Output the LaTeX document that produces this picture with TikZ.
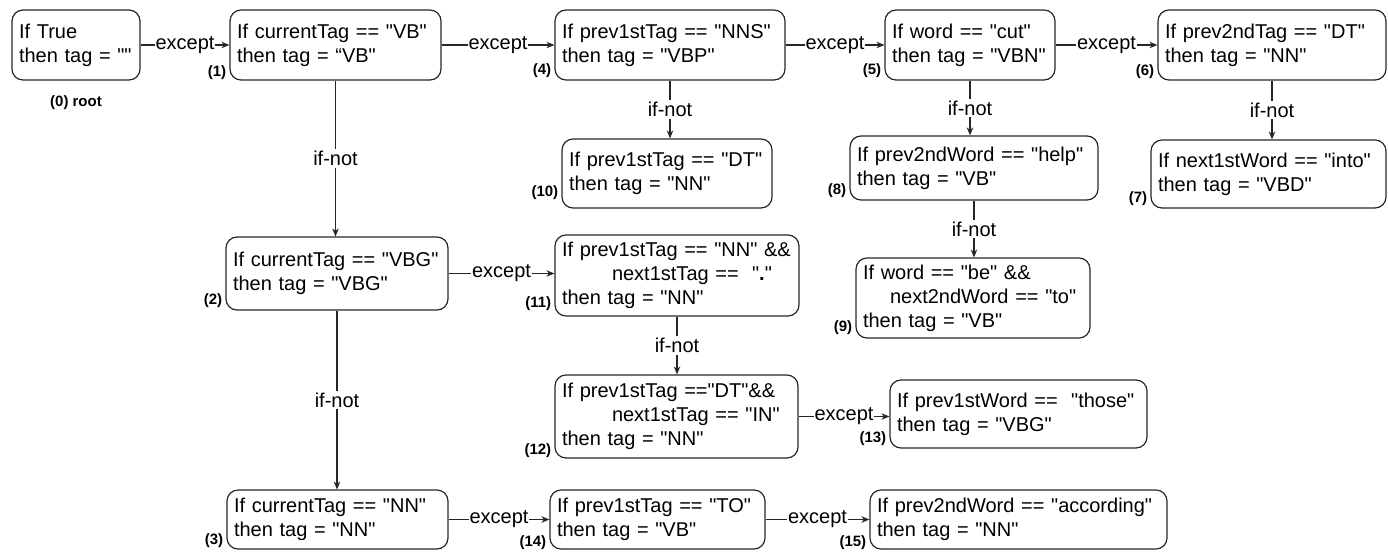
\documentclass[tikz,border=0pt]{standalone}
\usepackage{fontspec}
\setmainfont{Liberation Sans}
\newfontfamily\arialf{Liberation Sans}
\usetikzlibrary{arrows.meta}
\tikzset{
  rule/.style={draw=black!85, line width=1.2pt, rounded corners=11pt, inner xsep=7pt, inner ysep=0pt,
    align=left, font=\arialf\fontsize{20}{24}\selectfont, text=black},
  num/.style={font=\arialf\bfseries\fontsize{15}{18}\selectfont, anchor=east, inner sep=0pt, text=black},
  link/.style={draw=black!85, line width=1.2pt, -{Stealth[length=8pt,width=6.5pt]}},
  elab/.style={fill=white, inner xsep=1pt, inner ysep=2pt, font=\arialf\fontsize{20}{24}\selectfont, text=black},
}
\newcommand{\rbox}[6]{%
  \pgfmathsetmacro\bxw{#4-#2}\pgfmathsetmacro\bxh{#5-#3}\pgfmathsetmacro\bxtw{#4-#2-14}%
  \node[rule, minimum width=\bxw pt, minimum height=\bxh pt, text width=\bxtw pt] (#1) at ({(#2+#4)/2},{(#3+#5)/2}) {#6};}
\newcommand{\rnum}[3]{\node[num] (n#1) at ([xshift=-3pt,yshift=#3pt]#1.south west) {#2};}
\begin{document}
\begin{tikzpicture}[x=1pt,y=-1pt]
\useasboundingbox (0,0) rectangle (1388,552);
% boxes
\rbox{b0}{12}{10}{140}{80}{If True\\then tag = ""}
\rbox{b1}{230}{10}{441}{80}{If currentTag == "VB"\\then tag = “VB"}
\rbox{b4}{555}{10}{785}{80}{If prev1stTag == "NNS"\\then tag = "VBP"}
\rbox{b5}{885}{10}{1055}{80}{If word == "cut"\\then tag = "VBN"}
\rbox{b6}{1158}{10}{1386}{80}{If prev2ndTag == "DT"\\then tag = "NN"}
\rbox{b10}{562}{139}{772}{208}{If prev1stTag == "DT"\\then tag = "NN"}
\rbox{b8}{850}{136}{1098}{200}{If prev2ndWord == "help"\\then tag = "VB"}
\rbox{b7}{1151}{140}{1386}{208}{If next1stWord == "into"\\then tag = "VBD"}
\rbox{b2}{226}{237}{448}{310}{If currentTag == "VBG"\\then tag = "VBG"}
\rbox{b11}{555}{235}{799}{316}{If prev1stTag == "NN" \&\&\\\hspace*{50pt}next1stTag ==~~"\textbf{.}"\\then tag = "NN"}
\rbox{b9}{856}{258}{1090}{338}{If word == "be" \&\&\\\hspace*{27pt}next2ndWord == "to"\\then tag = "VB"}
\rbox{b12}{555}{375}{798}{458}{If prev1stTag =="DT"\&\&\\\hspace*{50pt}next1stTag == "IN"\\then tag = "NN"}
\rbox{b13}{890}{380}{1147}{448}{If prev1stWord ==~~"those"\\then tag = "VBG"}
\rbox{b3}{227}{490}{448}{549}{If currentTag == "NN"\\then tag = "NN"}
\rbox{b14}{550}{490}{765}{549}{If prev1stTag == "TO"\\then tag = "VB"}
\rbox{b15}{870}{490}{1167}{549}{If prev2ndWord == "according"\\then tag = "NN"}
% numbers
\node[num, anchor=center] (root) at (76,103) {(0) root};
\rnum{b1}{(1)}{8}
\rnum{b4}{(4)}{10}
\rnum{b5}{(5)}{10}
\rnum{b6}{(6)}{9}
\rnum{b10}{(10)}{16}
\rnum{b8}{(8)}{10}
\rnum{b7}{(7)}{10}
\rnum{b2}{(2)}{10}
\rnum{b11}{(11)}{13}
\rnum{b9}{(9)}{11}
\rnum{b12}{(12)}{8}
\rnum{b13}{(13)}{10}
\rnum{b3}{(3)}{9}
\rnum{b14}{(14)}{7}
\rnum{b15}{(15)}{7}
% except edges
\draw[link] (b0.east) -- node[elab]{except} (b0.east -| b1.west);
\draw[link] (b1.east) -- node[elab]{except} (b1.east -| b4.west);
\draw[link] (b4.east) -- node[elab]{except} (b4.east -| b5.west);
\draw[link] (b5.east) -- node[elab]{except} (b5.east -| b6.west);
\draw[link] (b2.east) -- node[elab]{except} (b2.east -| b11.west);
\draw[link] (b12.east) -- node[elab]{except} (b12.east -| b13.west);
\draw[link] (b3.east) -- node[elab]{except} (b3.east -| b14.west);
\draw[link] (b14.east) -- node[elab]{except} (b14.east -| b15.west);
% if-not edges
\draw[link] (b1.south) -- node[elab]{if-not} (b1.south |- b2.north);
\draw[link] (b2.south) -- node[elab]{if-not} (b2.south |- b3.north);
\draw[link] (b4.south) -- node[elab]{if-not} (b4.south |- b10.north);
\draw[link] (b11.south) -- node[elab]{if-not} (b11.south |- b12.north);
\draw[link] (b5.south) -- node[elab]{if-not} (b5.south |- b8.north);
\draw[link] (b8.south) -- node[elab]{if-not} (b8.south |- b9.north);
\draw[link] (b6.south) -- node[elab]{if-not} (b6.south |- b7.north);
\end{tikzpicture}
\end{document}
